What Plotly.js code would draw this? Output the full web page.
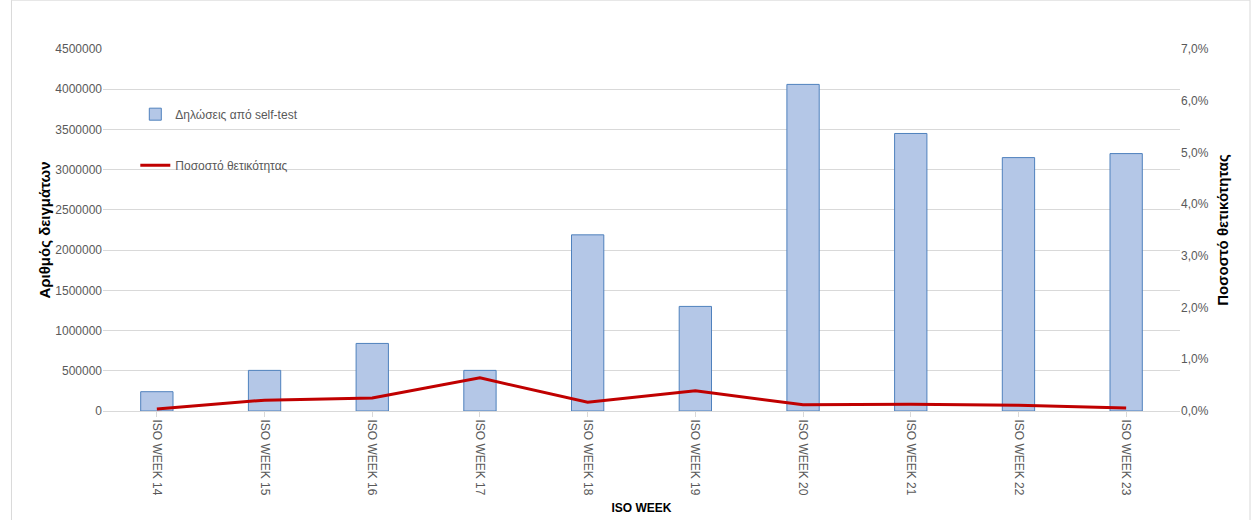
<!DOCTYPE html>
<html><head><meta charset="utf-8">
<script src="https://cdn.plot.ly/plotly-3.0.1.min.js"></script>
<style>body{margin:0}#c{width:1251px;height:520px}</style></head>
<body><div id="c"></div>
<script>
const weeks=["ISO WEEK 14","ISO WEEK 15","ISO WEEK 16","ISO WEEK 17","ISO WEEK 18","ISO WEEK 19","ISO WEEK 20","ISO WEEK 21","ISO WEEK 22","ISO WEEK 23"];
const tests=[240000,505000,840000,505000,2190000,1300000,4060000,3450000,3150000,3200000];
const positivity=[0.0004,0.0021,0.0025,0.0064,0.0017,0.0039,0.0012,0.0013,0.0011,0.0006];
const font={family:"Liberation Sans, Arial",size:12,color:"#595959"};
Plotly.newPlot("c",[
{type:"bar",x:weeks,y:tests,name:"Δηλώσεις από self-test",legendgroup:"a",marker:{color:"#b4c7e7",line:{color:"#4f81bd",width:1}},width:0.3},
{type:"scatter",mode:"lines",x:weeks,y:positivity,yaxis:"y2",legendgroup:"b",name:"Ποσοστό θετικότητας",line:{color:"#c00000",width:3}}
],{
width:1251,height:520,font:font,paper_bgcolor:"#fff",plot_bgcolor:"#fff",
margin:{l:103,r:71,t:49,b:109},
shapes:[{type:"rect",xref:"paper",yref:"paper",x0:-0.085,x1:1.065,y0:-0.305,y1:1.135,line:{color:"#d9d9d9",width:1}}],
showlegend:true,legend:{x:0.03,y:0.86,traceorder:"grouped",bgcolor:"rgba(0,0,0,0)",font:{size:12,color:"#595959"},tracegroupgap:32},
xaxis:{tickangle:90,showline:true,linecolor:"#d9d9d9",ticks:"outside",tickcolor:"#d9d9d9",
 title:{text:"<b>ISO WEEK</b>",font:{size:12,color:"#000"},standoff:8}},
yaxis:{range:[0,4500000],dtick:500000,gridcolor:"#d9d9d9",zeroline:false,tickformat:"d",
 title:{text:"<b>Αριθμός δειγμάτων</b>",font:{size:15,color:"#000"}}},
yaxis2:{overlaying:"y",side:"right",range:[0,0.07],dtick:0.01,showgrid:false,zeroline:false,
 tickformat:".1%",
 title:{text:"<b>Ποσοστό θετικότητας</b>",font:{size:15,color:"#000"}}},
separators:",."
},{displayModeBar:false});
</script></body></html>
